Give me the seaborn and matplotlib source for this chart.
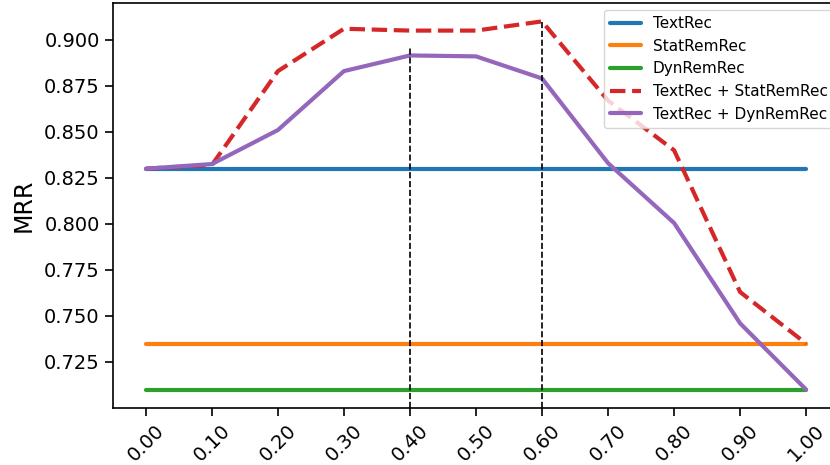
import matplotlib
matplotlib.use("Agg")
import matplotlib.pyplot as plt
import pandas as pd
import seaborn as sns

alphas = [0.0, 0.1, 0.2, 0.3, 0.4, 0.5, 0.6, 0.7, 0.8, 0.9, 1.0]
tick_labels = ["0.00", "0.10", "0.20", "0.30", "0.40", "0.50", "0.60", "0.70", "0.80", "0.90", "1.00"]

text_rec = [0.830] * 11
stat_rem_rec = [0.735] * 11
dyn_rem_rec = [0.710] * 11
text_stat = [0.830, 0.832, 0.883, 0.906, 0.905, 0.905, 0.910, 0.867, 0.840, 0.763, 0.735]
text_dyn = [0.830, 0.8325, 0.851, 0.883, 0.8915, 0.891, 0.879, 0.833, 0.8005, 0.746, 0.710]

vline_x = [0.4, 0.6]
vline_top = [0.896, 0.911]

series = {
    "TextRec": text_rec,
    "StatRemRec": stat_rem_rec,
    "DynRemRec": dyn_rem_rec,
    "TextRec + StatRemRec": text_stat,
    "TextRec + DynRemRec": text_dyn,
}

sns.set_style("ticks")
plt.rcParams["font.family"] = ["DejaVu Sans"]
plt.rcParams["text.color"] = "black"
plt.rcParams["axes.labelcolor"] = "black"

fig = plt.figure(figsize=(8.3, 4.65), dpi=100)
ax = fig.add_axes([0.136, 0.1226, 0.875, 0.871])

colors = sns.color_palette("tab10")
for i, (name, vals) in enumerate(series.items()):
    df = pd.DataFrame({"alpha": alphas, "mrr": vals})
    ls = "--" if name == "TextRec + StatRemRec" else "-"
    sns.lineplot(data=df, x="alpha", y="mrr", ax=ax, color=colors[i],
                 linewidth=3, linestyle=ls, label=name)

ax.vlines(vline_x, 0.70, vline_top, colors="black", linestyles="--", linewidth=1.2)

ax.set_ylim(0.70, 0.92)
ax.set_xlim(-0.05, 1.05)
ax.set_xticks(alphas)
ax.set_xticklabels(tick_labels, rotation=45, fontsize=14)
ax.set_yticks([0.725, 0.75, 0.775, 0.8, 0.825, 0.85, 0.875, 0.9])
ax.set_yticklabels(["0.725", "0.750", "0.775", "0.800", "0.825", "0.850", "0.875", "0.900"], fontsize=14)
ax.set_xlabel("")
ax.set_ylabel("MRR", fontsize=17, labelpad=6)
for s in ax.spines.values():
    s.set_color("black")
    s.set_linewidth(1.2)
ax.tick_params(colors="black", labelcolor="black", length=6, width=1.2)

leg = ax.legend(loc="upper left", bbox_to_anchor=(604 / 830, 1 - 10 / 465),
                bbox_transform=fig.transFigure, borderaxespad=0, fontsize=11,
                frameon=True, fancybox=True, framealpha=0.8, edgecolor="#cccccc")
for t in leg.get_texts():
    t.set_color("black")

fig.savefig("out.png", dpi=100)
